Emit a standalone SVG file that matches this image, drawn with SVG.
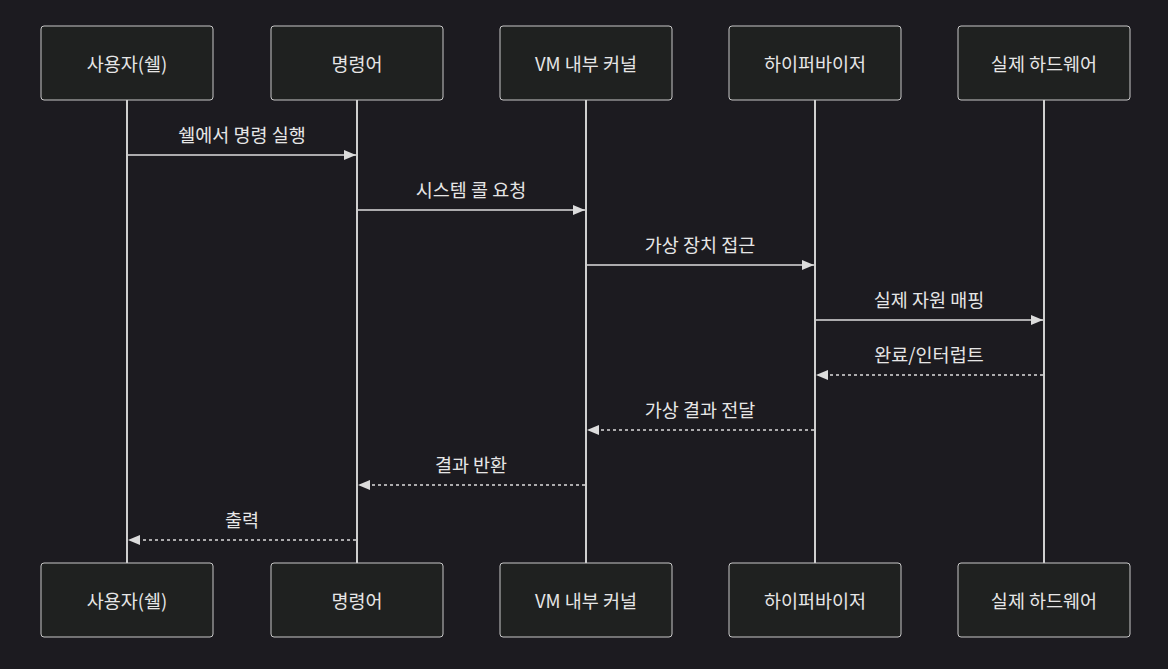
<svg xmlns="http://www.w3.org/2000/svg" width="1168" height="669" viewBox="0 0 1168 669">
<style>
.bg{fill:#1c1b20}
.actor{fill:#1f2120;stroke:#c8c8c8;stroke-width:1}
.life{stroke:#cfcfcf;stroke-width:2}
.t{font-family:"Noto Sans CJK KR","Noto Sans",sans-serif;font-size:18.5px;fill:#e6e6e6;text-anchor:middle;dominant-baseline:central}
.msg{stroke:#dcdcdc;stroke-width:1.5;fill:none}
.dash{stroke-dasharray:3,3}
</style>
<defs>
<marker id="ah" viewBox="0 0 12 10" refX="12" refY="5" markerWidth="12" markerHeight="10" markerUnits="userSpaceOnUse" orient="auto">
<path d="M0,0 L12,5 L0,10 z" fill="#dcdcdc"/>
</marker>
</defs>
<rect class="bg" x="0" y="0" width="1168" height="669"/>
<g id="lifelines">
<line class="life" x1="127" y1="100" x2="127" y2="563"/>
<line class="life" x1="357" y1="100" x2="357" y2="563"/>
<line class="life" x1="586" y1="100" x2="586" y2="563"/>
<line class="life" x1="815" y1="100" x2="815" y2="563"/>
<line class="life" x1="1044" y1="100" x2="1044" y2="563"/>
</g>
<g id="user">
<rect class="actor" x="41" y="26" width="172" height="74" rx="3"/><text class="t" x="127" y="63">사용자(쉘)</text>
<rect class="actor" x="41" y="563" width="172" height="74" rx="3"/><text class="t" x="127" y="600">사용자(쉘)</text>
</g>
<g id="cmd">
<rect class="actor" x="271" y="26" width="172" height="74" rx="3"/><text class="t" x="357" y="63">명령어</text>
<rect class="actor" x="271" y="563" width="172" height="74" rx="3"/><text class="t" x="357" y="600">명령어</text>
</g>
<g id="kernel">
<rect class="actor" x="500" y="26" width="172" height="74" rx="3"/><text class="t" x="586" y="63">VM 내부 커널</text>
<rect class="actor" x="500" y="563" width="172" height="74" rx="3"/><text class="t" x="586" y="600">VM 내부 커널</text>
</g>
<g id="hyper">
<rect class="actor" x="729" y="26" width="172" height="74" rx="3"/><text class="t" x="815" y="63">하이퍼바이저</text>
<rect class="actor" x="729" y="563" width="172" height="74" rx="3"/><text class="t" x="815" y="600">하이퍼바이저</text>
</g>
<g id="hw">
<rect class="actor" x="958" y="26" width="172" height="74" rx="3"/><text class="t" x="1044" y="63">실제 하드웨어</text>
<rect class="actor" x="958" y="563" width="172" height="74" rx="3"/><text class="t" x="1044" y="600">실제 하드웨어</text>
</g>
<g id="messages">
<line class="msg" x1="128" y1="155" x2="356" y2="155" marker-end="url(#ah)"/>
<text class="t" x="242" y="134">쉘에서 명령 실행</text>
<line class="msg" x1="358" y1="210" x2="585" y2="210" marker-end="url(#ah)"/>
<text class="t" x="471" y="189">시스템 콜 요청</text>
<line class="msg" x1="587" y1="265" x2="814" y2="265" marker-end="url(#ah)"/>
<text class="t" x="700" y="244">가상 장치 접근</text>
<line class="msg" x1="816" y1="320" x2="1043" y2="320" marker-end="url(#ah)"/>
<text class="t" x="929" y="299">실제 자원 매핑</text>
<line class="msg dash" x1="1043" y1="375" x2="816" y2="375" marker-end="url(#ah)"/>
<text class="t" x="929" y="354">완료/인터럽트</text>
<line class="msg dash" x1="814" y1="430" x2="587" y2="430" marker-end="url(#ah)"/>
<text class="t" x="700" y="409">가상 결과 전달</text>
<line class="msg dash" x1="585" y1="485" x2="358" y2="485" marker-end="url(#ah)"/>
<text class="t" x="471" y="464">결과 반환</text>
<line class="msg dash" x1="356" y1="540" x2="128" y2="540" marker-end="url(#ah)"/>
<text class="t" x="242" y="519">출력</text>
</g>
</svg>
